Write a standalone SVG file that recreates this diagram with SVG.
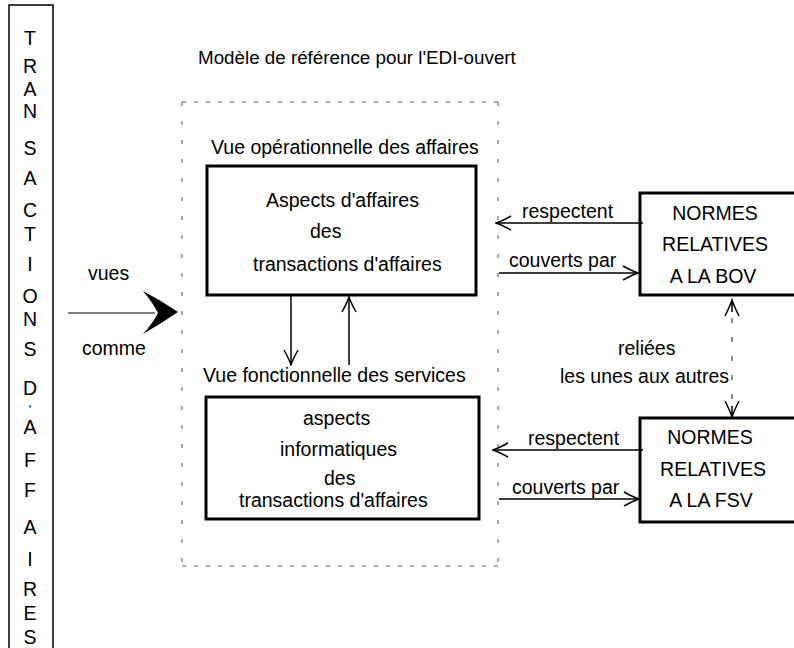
<svg xmlns="http://www.w3.org/2000/svg" width="794" height="648" viewBox="0 0 794 648">
<style>
text{font-family:"Liberation Sans",Arial,Helvetica,sans-serif;font-size:19.5px;fill:#000}
.m{text-anchor:middle}
.box{fill:none;stroke:#000;stroke-width:3}
.thin{fill:none;stroke:#000;stroke-width:1.5}
.ln{fill:none;stroke:#000;stroke-width:1.5}
.dh{fill:none;stroke:#555;stroke-width:1;stroke-dasharray:4 8}
.dv{fill:none;stroke:#555;stroke-width:1;stroke-dasharray:4 15}
.dd{fill:none;stroke:#444;stroke-width:1.2;stroke-dasharray:5 14}
</style>
<defs>
<marker id="ah" viewBox="0 0 17 16" refX="16" refY="8" markerWidth="17" markerHeight="16" markerUnits="userSpaceOnUse" orient="auto">
<path d="M1,1 Q10,6 16,8 Q10,10 1,15" fill="none" stroke="#000" stroke-width="1.5"/>
</marker>
</defs>

<g id="transactions">
<rect class="thin" x="9" y="5" width="44" height="670"/>
<g class="m">
<text x="30" y="45">T</text>
<text x="30" y="73">R</text>
<text x="30" y="96">A</text>
<text x="30" y="118">N</text>
<text x="30" y="155">S</text>
<text x="30" y="185">A</text>
<text x="30" y="217">C</text>
<text x="30" y="241">T</text>
<text x="30" y="271">I</text>
<text x="30" y="303">O</text>
<text x="30" y="326">N</text>
<text x="30" y="356">S</text>
<text x="30" y="395">D</text>
<text x="30" y="414" style="font-size:13px">'</text>
<text x="30" y="434">A</text>
<text x="30" y="467">F</text>
<text x="30" y="497">F</text>
<text x="30" y="534">A</text>
<text x="30" y="566">I</text>
<text x="30" y="596">R</text>
<text x="30" y="620">E</text>
<text x="30" y="644">S</text>
</g>
</g>

<g id="title">
<text x="198" y="64" style="font-size:18.8px">Modèle de référence pour l'EDI-ouvert</text>
</g>

<g id="edi-ouvert">
<path class="dh" d="M182,102 H498 M182,566 H498"/>
<path class="dv" d="M182,102 V566 M498,102 V566"/>
</g>

<g id="vue-operationnelle">
<text x="211" y="154">Vue opérationnelle des affaires</text>
<rect class="box" x="207" y="166" width="269" height="129"/>
<text x="266" y="207">Aspects d'affaires</text>
<text x="310" y="238">des</text>
<text x="253" y="271">transactions d'affaires</text>
</g>

<g id="vue-fonctionnelle">
<text x="203" y="382">Vue fonctionnelle des services</text>
<rect class="box" x="206" y="397" width="273" height="122"/>
<text x="303" y="425">aspects</text>
<text x="280" y="456">informatiques</text>
<text x="324" y="485">des</text>
<text x="239" y="507">transactions d'affaires</text>
</g>

<g id="normes-bov">
<rect class="box" x="640" y="193" width="160" height="102"/>
<text class="m" x="715" y="220">NORMES</text>
<text class="m" x="715" y="251">RELATIVES</text>
<text class="m" x="713" y="283">A LA BOV</text>
</g>

<g id="normes-fsv">
<rect class="box" x="640" y="418" width="160" height="104"/>
<text class="m" x="710" y="444">NORMES</text>
<text class="m" x="713" y="476">RELATIVES</text>
<text class="m" x="711" y="507">A LA FSV</text>
</g>

<g id="connectors">
<path d="M68,313 H155" fill="none" stroke="#000" stroke-width="1"/>
<path d="M143,291 Q162,301 178,312 Q162,323 143,334 Q153,323 158,313 Q153,303 143,291 Z" fill="#000"/>
<path class="ln" d="M291,295 V365" marker-end="url(#ah)"/>
<path class="ln" d="M349,365 V297" marker-end="url(#ah)"/>
<path class="ln" d="M643,223 H496" marker-end="url(#ah)"/>
<path class="ln" d="M499,273 H638" marker-end="url(#ah)"/>
<path class="ln" d="M643,450 H493" marker-end="url(#ah)"/>
<path class="ln" d="M499,499 H639" marker-end="url(#ah)"/>
<path class="dd" d="M732,318 V406"/>
<path class="ln" d="M732,300 V312 M725,316 Q730,306 732,300 Q734,306 739,316"/>
<path class="ln" d="M732,406 V417 M725,401 Q730,411 732,417 Q734,411 739,401"/>
</g>

<g id="labels">
<text x="88" y="280">vues</text>
<text x="82" y="355">comme</text>
<text x="522" y="218">respectent</text>
<text x="509" y="267">couverts par</text>
<text x="528" y="445">respectent</text>
<text x="512" y="494">couverts par</text>
<text x="618" y="355">reliées</text>
<text x="560" y="383">les unes aux autres</text>
</g>
</svg>
